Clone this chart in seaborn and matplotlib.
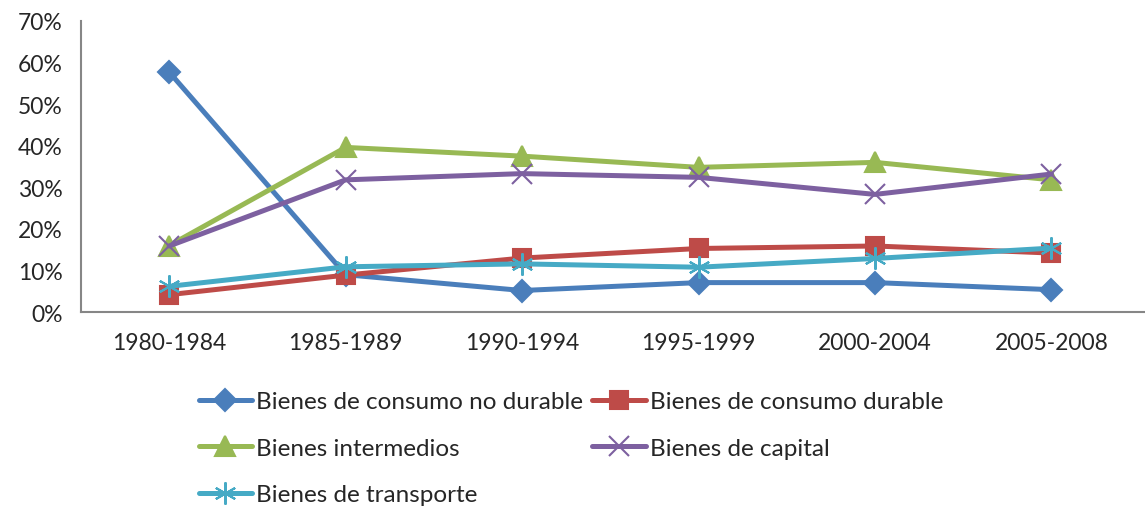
import matplotlib
matplotlib.use("Agg")
import matplotlib.pyplot as plt
import pandas as pd
import seaborn as sns
from matplotlib.ticker import PercentFormatter, FixedLocator

periods = ["1980-1984", "1985-1989", "1990-1994", "1995-1999", "2000-2004", "2005-2008"]

no_durable = [57.7, 9.0, 5.2, 7.1, 7.1, 5.4]
durable = [4.2, 8.9, 13.0, 15.3, 15.9, 14.2]
intermedios = [16.0, 39.6, 37.5, 34.8, 36.0, 31.8]
capital = [15.9, 31.8, 33.3, 32.4, 28.3, 33.2]
transporte = [6.2, 10.9, 11.6, 10.8, 12.9, 15.4]

series = [
    ("Bienes de consumo no durable", no_durable, "#4A7EBB", "D", 11),
    ("Bienes de consumo durable", durable, "#BE4B48", "s", 13),
    ("Bienes intermedios", intermedios, "#98B954", "^", 14),
    ("Bienes de capital", capital, "#7D60A0", "x", 14),
    ("Bienes de transporte", transporte, "#46AAC5", (6, 2, 0), 16),
]

sns.set_style("white")
plt.rcParams["font.family"] = ["Lato", "DejaVu Sans"]

fig = plt.figure(figsize=(11.45, 5.10), dpi=100)
ax = fig.add_axes([0.0707, 0.386, 0.9293, 0.571])

for name, vals, color, marker, ms in series:
    df = pd.DataFrame({"periodo": range(len(periods)), "valor": vals})
    sns.lineplot(data=df, x="periodo", y="valor", ax=ax, color=color, linewidth=3.6,
                 marker=marker, markersize=ms, markeredgecolor=color,
                 markeredgewidth=1.5, label=name)

ax.set_xlim(-0.5, len(periods) - 0.5 + 0.03)
ax.set_ylim(0, 70)
ax.set_yticks(range(0, 71, 10))
ax.yaxis.set_major_formatter(PercentFormatter(decimals=0))
ax.set_xticks(range(len(periods)))
ax.set_xticklabels(periods)
ax.xaxis.set_minor_locator(FixedLocator([i - 0.5 for i in range(len(periods) + 1)]))
ax.tick_params(axis="x", which="major", length=0, labelsize=16.5, pad=14)
ax.tick_params(axis="x", which="minor", length=7, width=1.5, color="#868686", direction="out")
ax.tick_params(axis="y", length=7, width=1.5, color="#868686", labelsize=16.5, direction="out", pad=6)
ax.set_xlabel("")
ax.set_ylabel("")
for side in ["top", "right"]:
    ax.spines[side].set_visible(False)
for side in ["left", "bottom"]:
    ax.spines[side].set_color("#868686")
    ax.spines[side].set_linewidth(1.5)

# row-major order for a 2-column legend
handles, labels = ax.get_legend_handles_labels()
ax.get_legend().remove()
order = [0, 2, 4, 1, 3]
fig.legend([handles[i] for i in order], [labels[i] for i in order],
           loc="upper left", bbox_to_anchor=(0.165, 0.25), ncol=2,
           frameon=False, fontsize=17.5, handlelength=2.2, handletextpad=0.15,
           columnspacing=0.4, labelspacing=1.05, borderaxespad=0)

fig.savefig("out.png", dpi=100)
